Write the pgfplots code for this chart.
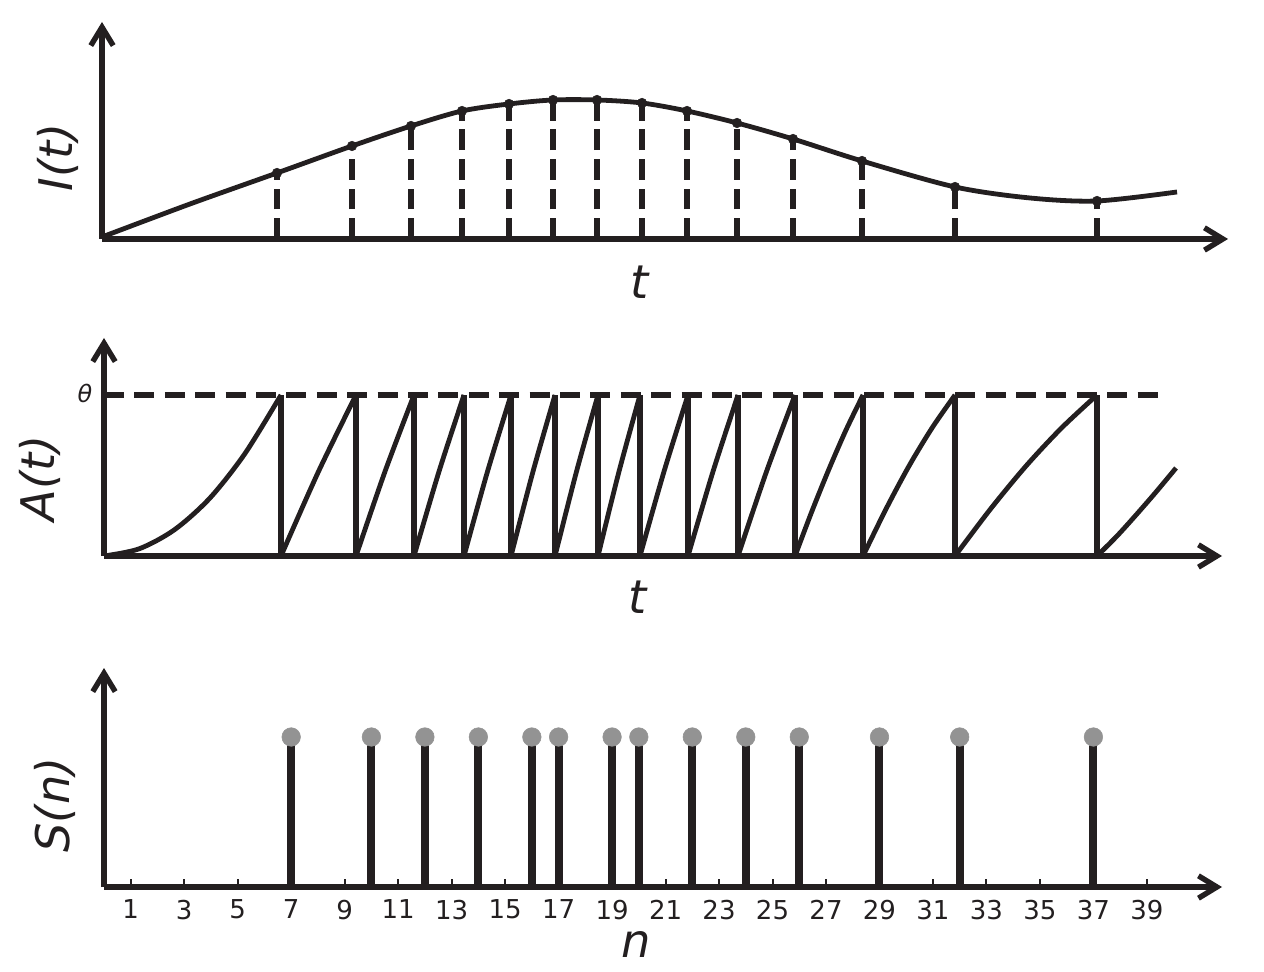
\documentclass[border=0pt]{standalone}
\usepackage{pgfplots}
\pgfplotsset{compat=1.18}
\usepackage{fontspec}
\setmainfont{DejaVu Sans}
\usetikzlibrary{arrows.meta}
\definecolor{ink}{HTML}{231F20}
\definecolor{dotgray}{HTML}{939393}
\newcommand{\biglab}{\fontsize{33}{36}\selectfont\itshape}
\pgfplotsset{
  panel/.style={
    scale only axis, anchor=south west, axis lines=left, clip=false,
    axis line style={ink, line width=1.35mm, -{Straight Barb[length=4.6mm,width=5.6mm]}},
    xtick=\empty, ytick=\empty,
  },
  tooth/.style={ink, line width=1.2mm, smooth, forget plot},
}
\begin{document}
\begin{tikzpicture}[x=0.25mm,y=0.25mm]
\path[use as bounding box] (0,0) rectangle (1264,971);

% ---------- top panel: I(t) ----------
\begin{axis}[panel, at={(25.5mm,183mm)}, width=281.5mm, height=54.25mm,
  xmin=102, xmax=1228, ymin=0, ymax=217]
\addplot[ink, line width=1.5mm, dash pattern=on 5.2mm off 2.2mm, sharp plot, unbounded coords=jump] coordinates {
 (277,0)(277,66)(277,nan)(352,0)(352,93)(352,nan)(411,0)(411,113)(411,nan)(462,0)(462,128)(462,nan)
 (509,0)(509,135)(509,nan)(553,0)(553,139)(553,nan)(597,0)(597,139)(597,nan)(642,0)(642,136)(642,nan)
 (687,0)(687,128)(687,nan)(737,0)(737,116)(737,nan)(793,0)(793,100)(793,nan)(862,0)(862,78)(862,nan)
 (955,0)(955,52)(955,nan)(1097,0)(1097,38)};
\addplot[ink, line width=1.2mm, smooth] coordinates {
 (102,2)(190,35)(277,66)(352,93)(411,113)(462,128)(509,135)(553,139)(597,139)
 (642,136)(687,128)(737,116)(793,100)(862,78)(955,52)(1030,41)(1097,38)(1177,47)};
\addplot[ink, only marks, mark=*, mark size=3.4pt] coordinates {
 (277,66)(352,93)(411,113)(462,128)(509,135)(553,139)(597,139)(642,136)
 (687,128)(737,116)(793,100)(862,78)(955,52)(1097,38)};
\end{axis}

% ---------- middle panel: A(t) ----------
\begin{axis}[panel, at={(26mm,103.75mm)}, width=279.5mm, height=54.5mm,
  xmin=104, xmax=1222, ymin=0, ymax=218]
\addplot[ink, line width=1.3mm, dash pattern=on 5mm off 2.6mm] coordinates {(104,161)(1166,161)};
\addplot[tooth] coordinates {(104,0)(139.2,7.2)(174.4,26.2)(209.6,57.6)(244.8,102.2)(281,161)};
\addplot[tooth] coordinates {(281,0)(318.5,84.5)(356,161)};
\addplot[tooth] coordinates {(356,0)(385,84.5)(414,161)};
\addplot[tooth] coordinates {(414,0)(439,84.5)(464,161)};
\addplot[tooth] coordinates {(464,0)(487.5,84.5)(511,161)};
\addplot[tooth] coordinates {(511,0)(533,84.5)(555,161)};
\addplot[tooth] coordinates {(555,0)(576.5,84.5)(598,161)};
\addplot[tooth] coordinates {(598,0)(619,84.5)(640,161)};
\addplot[tooth] coordinates {(640,0)(664,84.5)(688,161)};
\addplot[tooth] coordinates {(688,0)(713,84.5)(738,161)};
\addplot[tooth] coordinates {(738,0)(766.5,84.5)(795,161)};
\addplot[tooth] coordinates {(795,0)(812,45)(829,87)(846,126)(863,161)};
\addplot[tooth] coordinates {(863,0)(886,47)(909,90)(932,128)(955,161)};
\addplot[tooth] coordinates {(955,0)(990.5,47)(1026,90)(1061.5,128)(1097,161)};
\addplot[tooth] coordinates {(1097,0)(1117,20)(1136,41)(1156,64)(1176,88)};
\addplot[ink, line width=1.5mm, sharp plot, unbounded coords=jump] coordinates {
 (281,0)(281,161)(281,nan)(356,0)(356,161)(356,nan)(414,0)(414,161)(414,nan)(464,0)(464,161)(464,nan)
 (511,0)(511,161)(511,nan)(555,0)(555,161)(555,nan)(598,0)(598,161)(598,nan)(640,0)(640,161)(640,nan)
 (688,0)(688,161)(688,nan)(738,0)(738,161)(738,nan)(795,0)(795,161)(795,nan)(863,0)(863,161)(863,nan)
 (955,0)(955,161)(955,nan)(1097,0)(1097,161)};
\end{axis}

% ---------- bottom panel: S(n) ----------
\begin{axis}[panel, at={(26mm,21mm)}, width=279.5mm, height=54.75mm,
  xmin=0, xmax=41.81, ymin=0, ymax=219,
  xtick={1,3,...,39}, xtick align=inside, major tick length=2mm,
  tick style={ink, line width=0.5mm},
  xticklabel style={font=\fontsize{18.5}{21}\selectfont, text=ink, yshift=-2mm},
  /pgf/number format/assume math mode=true]
\addplot[dotgray, only marks, mark=*, mark size=6.6pt] coordinates {
 (7,150)(10,150)(12,150)(14,150)(16,150)(17,150)(19,150)(20,150)
 (22,150)(24,150)(26,150)(29,150)(32,150)(37,150)};
\addplot[ink, line width=2mm, ycomb] coordinates {
 (7,152)(10,152)(12,152)(14,152)(16,152)(17,152)(19,152)(20,152)
 (22,152)(24,152)(26,152)(29,152)(32,152)(37,152)};
\end{axis}

% ---------- labels ----------
\node[rotate=90, font=\biglab, text=ink] at (58,814) {I(t)};
\node[font=\biglab, text=ink] at (640,689) {t};
\node[rotate=90, font=\biglab, text=ink] at (40,493) {A(t)};
\node[font=\biglab, text=ink] at (638,374) {t};
\node[rotate=90, font=\biglab, text=ink] at (55,166) {S(n)};
\node[font=\biglab, text=ink, inner sep=0pt] at (636,26) {n};
\node[font=\fontsize{17}{20}\selectfont\itshape, text=ink] at (85,578) {θ};
\end{tikzpicture}
\end{document}
